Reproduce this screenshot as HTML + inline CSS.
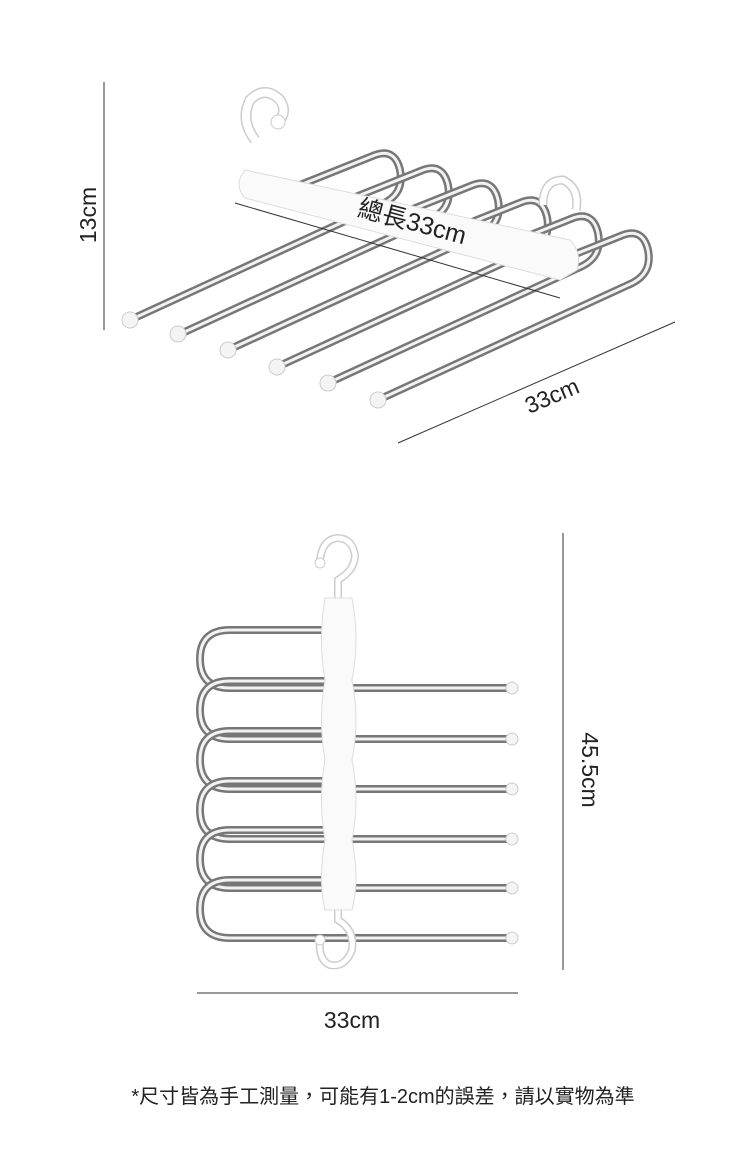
<!DOCTYPE html>
<html><head><meta charset="utf-8"><style>
body{margin:0;background:#fff;width:750px;height:1167px;overflow:hidden}
svg{display:block}
text{font-family:"Liberation Sans","Noto Sans CJK TC",sans-serif;fill:#222}
</style></head><body>
<svg width="750" height="1167" viewBox="0 0 750 1167">
<!-- top dimensions -->
<line x1="104" y1="82" x2="104" y2="330" stroke="#333" stroke-width="1"/>
<text transform="translate(96,215) rotate(-90)" font-size="23" text-anchor="middle">13cm</text>
<line x1="398" y1="443" x2="675" y2="322" stroke="#333" stroke-width="1"/>
<text transform="translate(555,403) rotate(-23)" font-size="23" text-anchor="middle">33cm</text>

<!-- top hanger rods -->
<g fill="none" stroke-linecap="round">
<g id="r">
<path d="M130,320 L380,205 Q405,195 400,170 Q395,148 375,155 L300,185" stroke="#777" stroke-width="8"/>
<path d="M130,320 L380,205 Q405,195 400,170 Q395,148 375,155 L300,185" stroke="#f2f2f2" stroke-width="3"/>
</g>
<use href="#r" transform="translate(48,15)"/>
<use href="#r" transform="translate(98,30)"/>
<use href="#r" transform="translate(147,47)"/>
<use href="#r" transform="translate(198,63)"/>
<use href="#r" transform="translate(248,80)"/>
</g>
<g fill="#f4f4f4" stroke="#ccc">
<circle cx="130" cy="320" r="8"/><circle cx="178" cy="334" r="8"/><circle cx="228" cy="350" r="8"/>
<circle cx="277" cy="367" r="8"/><circle cx="328" cy="383" r="8"/><circle cx="378" cy="400" r="8"/>
</g>
<!-- top bar -->
<path d="M255,140 Q240,120 250,100 Q265,85 280,100 Q288,112 278,122" fill="none" stroke="#ccc" stroke-width="11"/>
<path d="M255,140 Q240,120 250,100 Q265,85 280,100 Q288,112 278,122" fill="none" stroke="#fff" stroke-width="8"/>
<circle cx="278" cy="122" r="7" fill="#fff" stroke="#ccc"/>
<path d="M543,205 Q543,180 563,180 Q580,188 576,210" fill="none" stroke="#ccc" stroke-width="9"/>
<path d="M543,205 Q543,180 563,180 Q580,188 576,210" fill="none" stroke="#fff" stroke-width="6"/>
<path d="M245,170 L570,240 Q582,252 577,270 L560,280 L245,198 Q233,185 245,170Z" fill="#fafafa" stroke="#ddd"/>
<line x1="235" y1="203" x2="560" y2="298" stroke="#333" stroke-width="1"/>
<text transform="translate(410,230) rotate(15)" font-size="25" text-anchor="middle">總長33cm</text>

<!-- bottom dimensions -->
<line x1="563" y1="533" x2="563" y2="970" stroke="#333" stroke-width="1"/>
<text transform="translate(582,770) rotate(90)" font-size="23" text-anchor="middle">45.5cm</text>
<line x1="197" y1="993" x2="518" y2="993" stroke="#333" stroke-width="1"/>
<text x="352" y="1028" font-size="23" text-anchor="middle">33cm</text>

<!-- bottom hanger rods -->
<g fill="none">
<g id="u">
<path d="M330,630 L230,630 Q200,630 200,659 Q200,688 230,688 L508,688" stroke="#777" stroke-width="8"/>
<path d="M330,630 L230,630 Q200,630 200,659 Q200,688 230,688 L508,688" stroke="#f2f2f2" stroke-width="3"/>
</g>
<use href="#u" transform="translate(0,51)"/>
<use href="#u" transform="translate(0,101)"/>
<use href="#u" transform="translate(0,151)"/>
<use href="#u" transform="translate(0,200)"/>
<use href="#u" transform="translate(0,250)"/>
</g>
<g fill="#f4f4f4" stroke="#ccc">
<circle cx="512" cy="688" r="6"/><circle cx="512" cy="739" r="6"/><circle cx="512" cy="789" r="6"/>
<circle cx="512" cy="839" r="6"/><circle cx="512" cy="888" r="6"/><circle cx="512" cy="938" r="6"/>
</g>
<!-- bottom bar and hooks -->
<path d="M338,598 L338,580 Q355,570 355,555 Q352,538 337,538 Q322,540 320,560" fill="none" stroke="#ccc" stroke-width="8"/>
<path d="M338,598 L338,580 Q355,570 355,555 Q352,538 337,538 Q322,540 320,560" fill="none" stroke="#fff" stroke-width="5"/>
<circle cx="320" cy="563" r="5" fill="#fff" stroke="#ccc"/>
<path d="M338,905 L338,920 Q355,930 352,950 Q345,968 330,965 Q318,960 320,940" fill="none" stroke="#ccc" stroke-width="8"/>
<path d="M338,905 L338,920 Q355,930 352,950 Q345,968 330,965 Q318,960 320,940" fill="none" stroke="#fff" stroke-width="5"/>
<circle cx="320" cy="940" r="5" fill="#fff" stroke="#ccc"/>
<path d="M325,598 L352,598 Q360,640 352,680 Q360,720 352,760 Q360,800 352,840 Q360,880 352,910 L325,910 Q318,880 325,840 Q318,800 325,760 Q318,720 325,680 Q318,640 325,598Z" fill="#fafafa" stroke="#ddd"/>

<text x="383" y="1103" font-size="20" text-anchor="middle">*尺寸皆為手工測量，可能有1-2cm的誤差，請以實物為準</text>
</svg>
</body></html>
